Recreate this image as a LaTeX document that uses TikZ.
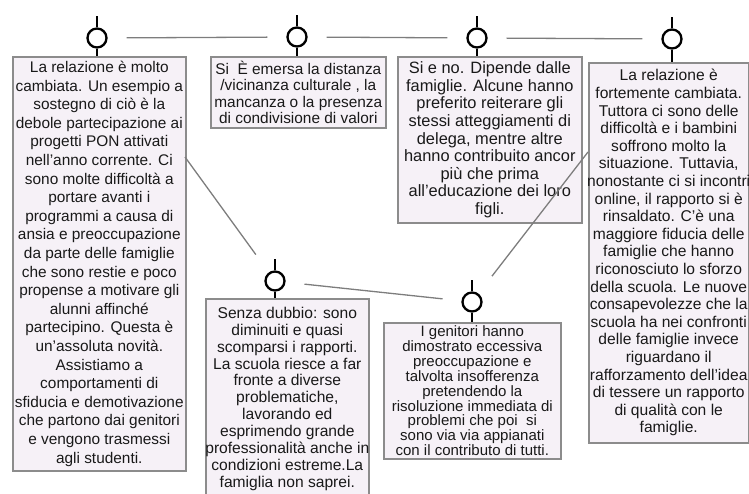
\documentclass[tikz,border=0pt]{standalone}
\usepackage{fontspec}
\setmainfont{Liberation Sans}
\definecolor{cardfill}{RGB}{246,241,247}
\definecolor{cardline}{RGB}{140,140,140}
\definecolor{linkgray}{RGB}{125,125,125}
\tikzset{
  card/.style={draw=cardline, fill=cardfill, line width=1.6pt, anchor=north west,
    align=center, inner xsep=1pt, inner ysep=2pt, text=black!90},
  ring/.style={circle, draw, line width=2.3pt, minimum size=19pt, inner sep=0pt},
  stick/.style={line width=2.4pt},
  link/.style={draw=linkgray, line width=1.3pt, shorten <=19pt, shorten >=19pt}
}
\begin{document}
\begin{tikzpicture}[x=1pt,y=-1pt]
\useasboundingbox (0,0) rectangle (749,494);
\clip (0,0) rectangle (749,494);

% Answer boxes
\node[card, minimum width=173pt, minimum height=414pt, font=\fontsize{15.4}{18.6}\selectfont] (b1) at (12,56) {%
La relazione è molto\\
cambiata. Un esempio a\\
sostegno di ciò è la\\
debole partecipazione ai\\
progetti PON attivati\\
nell'anno corrente. Ci\\
sono molte difficoltà a\\
portare avanti i\\
programmi a causa di\\
ansia e preoccupazione\\
da parte delle famiglie\\
che sono restie e poco\\
propense a motivare gli\\
alunni affinché\\
partecipino. Questa è\\
un'assoluta novità.\\
Assistiamo a\\
comportamenti di\\
sfiducia e demotivazione\\
che partono dai genitori\\
e vengono trasmessi\\
agli studenti.};
\node[card, minimum width=175pt, minimum height=71pt, font=\fontsize{15.4}{16.5}\selectfont] (b2) at (210,56) {%
Si\ \ È emersa la distanza\\
/vicinanza culturale , la\\
mancanza o la presenza\\
di condivisione di valori};
\node[card, minimum width=184pt, minimum height=166pt, font=\fontsize{16.4}{17.6}\selectfont] (b3) at (397,56) {%
Si e no. Dipende dalle\\
famiglie. Alcune hanno\\
preferito reiterare gli\\
stessi atteggiamenti di\\
delega, mentre altre\\
hanno contribuito ancor\\
più che prima\\
all'educazione dei loro\\
figli.};
\node[card, minimum width=159pt, minimum height=380pt, font=\fontsize{15.6}{17.6}\selectfont] (b4) at (588,62) {%
La relazione è\\
fortemente cambiata.\\
Tuttora ci sono delle\\
difficoltà e i bambini\\
soffrono molto la\\
situazione. Tuttavia,\\
\makebox[0pt]{nonostante ci si incontri}\\
online, il rapporto si è\\
rinsaldato. C'è una\\
maggiore fiducia delle\\
famiglie che hanno\\
riconosciuto lo sforzo\\
della scuola. Le nuove\\
consapevolezze che la\\
scuola ha nei confronti\\
delle famiglie invece\\
riguardano il\\
rafforzamento dell'idea\\
di tessere un rapporto\\
di qualità con le\\
famiglie.};
\node[card, minimum width=163pt, minimum height=200pt, font=\fontsize{15.6}{16.9}\selectfont] (b5) at (205,298) {%
Senza dubbio: sono\\
diminuiti e quasi\\
scomparsi i rapporti.\\
La scuola riesce a far\\
fronte a diverse\\
problematiche,\\
lavorando ed\\
esprimendo grande\\
\makebox[0pt]{professionalità anche in}\\
condizioni estreme.La\\
famiglia non saprei.};
\node[card, minimum width=177pt, minimum height=136pt, font=\fontsize{15}{14.9}\selectfont] (b6) at (383,322) {%
I genitori hanno\\
dimostrato eccessiva\\
preoccupazione e\\
talvolta insofferenza\\
pretendendo la\\
risoluzione immediata di\\
problemi che poi\ \ si\\
sono via via appianati\\
con il contributo di tutti.};

% Pins
\foreach \n/\x/\y in {1/97/38, 2/297/37, 3/477/38, 4/672/39, 5/275/281, 6/472/302}
  \node[ring] (p\n) at (\x,\y) {};
\foreach \n in {1,...,6} {
  \draw[stick] (p\n.north) -- ++(0,-11);
  \draw[stick] (p\n.south) -- (p\n.south |- b\n.north);
}

% Links
\coordinate (a1) at (185,157);
\coordinate (a2) at (588,152);
\draw[link] (p1) -- (p2);
\draw[link] (p2) -- (p3);
\draw[link] (p3) -- (p4);
\draw[link, shorten <=0pt, shorten >=22pt] (a1) -- (p5);
\draw[link] (p5) -- (p6);
\draw[link, shorten <=22pt, shorten >=0pt] (p6) -- (a2);
\end{tikzpicture}
\end{document}
